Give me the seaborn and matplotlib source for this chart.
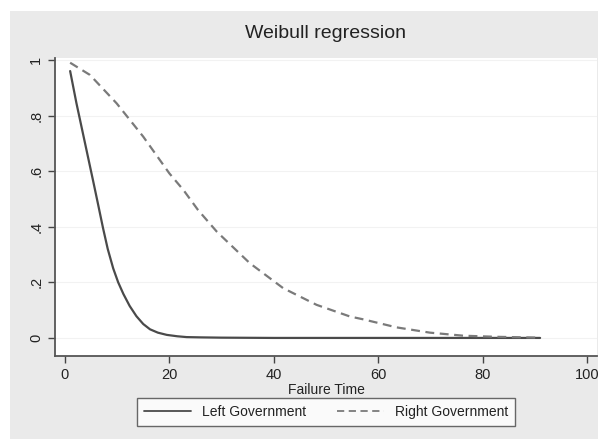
import numpy as np
import pandas as pd
import matplotlib
matplotlib.use("Agg")
import matplotlib.pyplot as plt
import seaborn as sns

# valores
t_izq = [1, 2.2, 3.8, 5.4, 6.3, 7.3, 8.2, 9.25, 10.2, 11.2, 12.4, 13.7, 15,
         16.3, 17.8, 19.5, 21.5, 23.3, 26, 30, 40, 60, 80, 91]
s_izq = [0.96, 0.845, 0.705, 0.565, 0.485, 0.395, 0.32, 0.25, 0.2, 0.158, 0.115,
         0.078, 0.05, 0.031, 0.019, 0.011, 0.006, 0.003, 0.002, 0.001, 0, 0, 0, 0]

t_der = [1, 4.8, 9.9, 15, 20, 22.7, 25.5, 29.1, 35.4, 41.8, 48.2, 54.6, 57.1,
         63.5, 69.9, 76.3, 82.7, 91]
s_der = [0.99, 0.946, 0.844, 0.724, 0.592, 0.532, 0.46, 0.382, 0.269, 0.179,
         0.119, 0.077, 0.067, 0.038, 0.019, 0.008, 0.004, 0.001]

grupos = ["Left Government", "Right Government"]
x_ticks = [0, 20, 40, 60, 80, 100]
y_ticks = [0, 0.2, 0.4, 0.6, 0.8, 1]
y_labels = ["0", ".2", ".4", ".6", ".8", "1"]

df = pd.concat([
    pd.DataFrame({"t": t_izq, "s": s_izq, "grupo": grupos[0]}),
    pd.DataFrame({"t": t_der, "s": s_der, "grupo": grupos[1]}),
])

sns.set_style("ticks")
plt.rcParams["font.family"] = ["Liberation Sans", "DejaVu Sans"]

fig = plt.figure(figsize=(6.02, 4.41), dpi=100)
fig.patch.set_facecolor("white")
# fondo gris estilo Stata
fondo = plt.Rectangle((10 / 602, 2 / 441), 588 / 602, 428 / 441,
                      transform=fig.transFigure, facecolor="#eaeaea",
                      edgecolor="none", zorder=-10)
fig.patches.append(fondo)

ax = fig.add_axes([55 / 602, 1 - 356 / 441, 542 / 602, 298 / 441])
ax.set_facecolor("white")

sns.lineplot(data=df, x="t", y="s", hue="grupo", style="grupo",
             palette={grupos[0]: "#4a4a4a", grupos[1]: "#7a7a7a"},
             dashes={grupos[0]: "", grupos[1]: (4, 2.5)},
             linewidth=1.6, ax=ax, legend=False)

ax.set_xlim(-1.9, 101.9)
ax.set_ylim(-0.065, 1.007)
ax.set_xticks(x_ticks)
ax.set_yticks(y_ticks)
ax.set_yticklabels(y_labels, rotation=90, va="center")
ax.tick_params(axis="both", direction="out", length=5, width=1,
               color="#444444", labelsize=10.5, labelcolor="#222222")
ax.grid(axis="y", color="#f2f2f2", linewidth=0.8)
ax.set_axisbelow(True)
for lado in ["top", "right"]:
    ax.spines[lado].set_visible(False)
for lado in ["left", "bottom"]:
    ax.spines[lado].set_color("#555555")
    ax.spines[lado].set_linewidth(1.3)

ax.set_xlabel("Failure Time", fontsize=10, color="#222222", labelpad=1)
ax.set_ylabel("")
fig.text(0.54, 1 - 33 / 441, "Weibull regression", ha="center", va="center",
         fontsize=14, color="#222222")

lineas = [plt.Line2D([], [], color="#4a4a4a", lw=1.3),
          plt.Line2D([], [], color="#7a7a7a", lw=1.3, ls=(0, (4, 2.5)))]
leg = fig.legend(lineas, grupos, loc="center", bbox_to_anchor=(326 / 602, 1 - 412 / 441),
                 ncol=2, fontsize=10, frameon=True, fancybox=False,
                 handlelength=3.4, columnspacing=2.2, borderpad=0.5,
                 edgecolor="#444444", facecolor="white")
leg.get_frame().set_linewidth(1.0)
for txt in leg.get_texts():
    txt.set_color("#222222")

fig.savefig("out.png", dpi=100)
